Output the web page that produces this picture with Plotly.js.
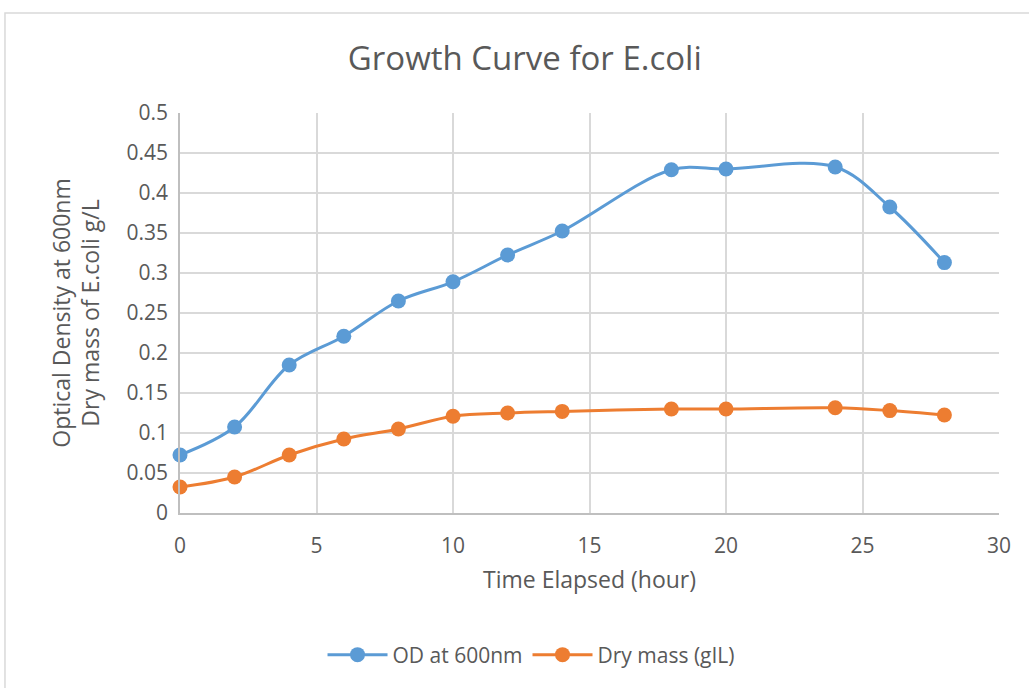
<!DOCTYPE html>
<html><head><meta charset="utf-8">
<script src="https://cdn.plot.ly/plotly-3.0.1.min.js"></script>
<style>html,body{margin:0;padding:0;background:#fff}#chart{width:1029px;height:688px}</style>
</head><body><div id="chart"></div>
<script>
const timeHours = [0, 2, 4, 6, 8, 10, 12, 14, 18, 20, 24, 26, 28];
const odValues = [0.0725, 0.1075, 0.185, 0.221, 0.265, 0.289, 0.3225, 0.3525, 0.429, 0.43, 0.4325, 0.3825, 0.313];
const dryMassValues = [0.0325, 0.045, 0.0725, 0.0925, 0.105, 0.121, 0.125, 0.127, 0.13, 0.13, 0.1315, 0.128, 0.1225];
const seriesNames = ["OD at 600nm", "Dry mass (gIL)"];
const xTicks = [0, 5, 10, 15, 20, 25, 30];
const yTicks = [0, 0.05, 0.1, 0.15, 0.2, 0.25, 0.3, 0.35, 0.4, 0.45, 0.5];

const txt = '#595959';
const font = 'Open Sans, sans-serif';
const traces = [
  {x: timeHours, y: odValues, name: seriesNames[0], type: 'scatter', mode: 'lines+markers',
   line: {color: '#5B9BD5', width: 3, shape: 'spline', smoothing: 1}, marker: {color: '#5B9BD5', size: 15}, cliponaxis: false},
  {x: timeHours, y: dryMassValues, name: seriesNames[1], type: 'scatter', mode: 'lines+markers',
   line: {color: '#ED7D31', width: 3, shape: 'spline', smoothing: 1}, marker: {color: '#ED7D31', size: 15}, cliponaxis: false}
];
const layout = {
  width: 1029, height: 688,
  margin: {l: 180, r: 30, t: 113, b: 175},
  paper_bgcolor: '#fff', plot_bgcolor: '#fff',
  font: {family: font, color: txt},
  title: {text: 'Growth Curve for E.coli', font: {size: 33, color: txt, family: font}, x: 0.51, xref: 'container', xanchor: 'center', y: 0.915, yanchor: 'middle'},
  xaxis: {range: [0, 30], tickvals: xTicks, ticktext: xTicks.map(String), showgrid: true, gridcolor: '#D9D9D9', gridwidth: 1.5,
    zeroline: false, showline: true, linecolor: '#BFBFBF', linewidth: 1.5, ticks: '', tickfont: {size: 21, color: txt}, ticklabelstandoff: 13,
    title: {text: 'Time Elapsed (hour)', font: {size: 23, color: txt}, standoff: 14}},
  yaxis: {range: [0, 0.5], tickvals: yTicks, ticktext: yTicks.map(String), showgrid: true, gridcolor: '#D9D9D9', gridwidth: 1.5,
    zeroline: false, showline: true, linecolor: '#BFBFBF', linewidth: 1.5, ticks: '', tickfont: {size: 21, color: txt}, ticklabelstandoff: 6,
    title: {text: 'Optical Density at 600nm<br>Dry mass of E.coli g/L', font: {size: 23, color: txt}, standoff: 20}},
  legend: {orientation: 'h', x: 0.4286, xanchor: 'center', y: -0.355, yanchor: 'middle', font: {size: 21, color: txt}, itemwidth: 60},
  shapes: [{type: 'rect', xref: 'paper', yref: 'paper', x0: -0.2137, x1: 1.04, y0: -0.45, y1: 1.25, line: {color: '#D9D9D9', width: 1.5}, fillcolor: 'rgba(0,0,0,0)', layer: 'below'}]
};
Plotly.newPlot('chart', traces, layout, {displayModeBar: false});
</script></body></html>
